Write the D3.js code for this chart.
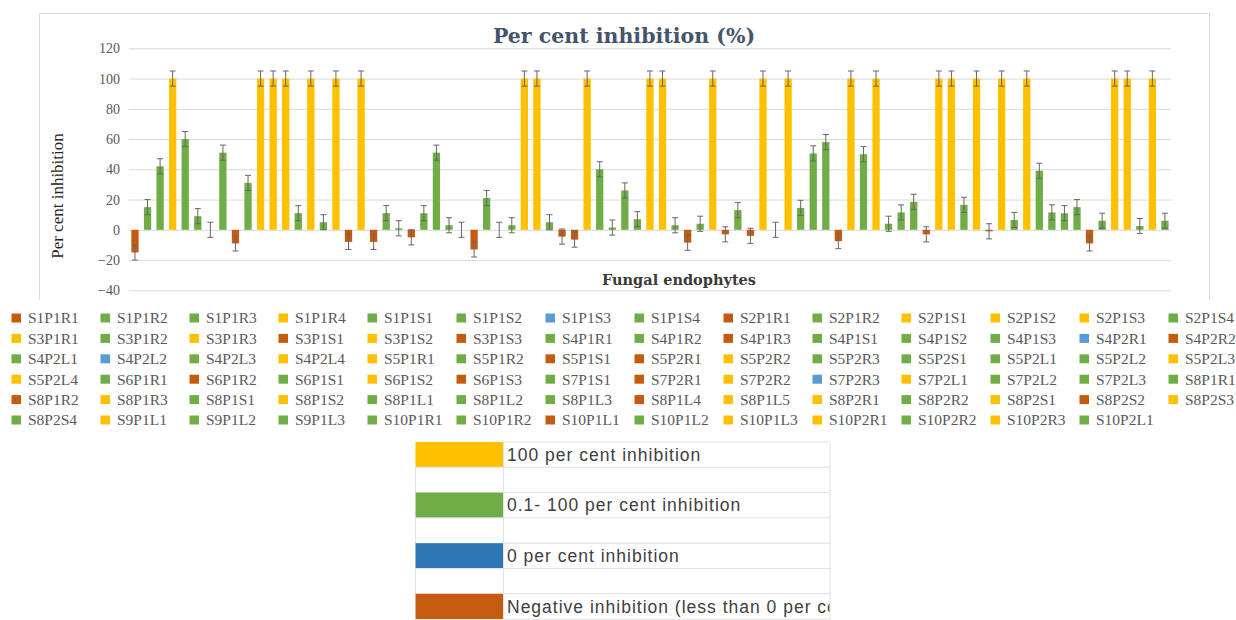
<!DOCTYPE html>
<html><head><meta charset="utf-8">
<script src="https://cdn.jsdelivr.net/npm/d3@7"></script>
<style>body{margin:0;background:#fff;} svg{display:block;}</style>
</head><body><svg id="c" width="1236" height="620"></svg>
<script>
const categories = ["S1P1R1","S1P1R2","S1P1R3","S1P1R4","S1P1S1","S1P1S2","S1P1S3","S1P1S4","S2P1R1","S2P1R2","S2P1S1","S2P1S2","S2P1S3","S2P1S4",
"S3P1R1","S3P1R2","S3P1R3","S3P1S1","S3P1S2","S3P1S3","S4P1R1","S4P1R2","S4P1R3","S4P1S1","S4P1S2","S4P1S3","S4P2R1","S4P2R2",
"S4P2L1","S4P2L2","S4P2L3","S4P2L4","S5P1R1","S5P1R2","S5P1S1","S5P2R1","S5P2R2","S5P2R3","S5P2S1","S5P2L1","S5P2L2","S5P2L3",
"S5P2L4","S6P1R1","S6P1R2","S6P1S1","S6P1S2","S6P1S3","S7P1S1","S7P2R1","S7P2R2","S7P2R3","S7P2L1","S7P2L2","S7P2L3","S8P1R1",
"S8P1R2","S8P1R3","S8P1S1","S8P1S2","S8P1L1","S8P1L2","S8P1L3","S8P1L4","S8P1L5","S8P2R1","S8P2R2","S8P2S1","S8P2S2","S8P2S3",
"S8P2S4","S9P1L1","S9P1L2","S9P1L3","S10P1R1","S10P1R2","S10P1L1","S10P1L2","S10P1L3","S10P2R1","S10P2R2","S10P2R3","S10P2L1"];
const values = [-15,15,42,100,60,9,0,51,-9,31,100,100,100,11,
100,5,100,-8,100,-8,11,1,-5,11,51,3,0,-13,
21,0,3,100,100,5,-4.5,-6.5,100,40,1.5,26,7,100,
100,3,-8.5,4,100,-3,13,-4,100,0,100,14.5,50.5,58,
-7.5,100,50,100,4,11.5,18.5,-3,100,100,16.5,100,-1,100,
6.5,100,39,11.5,11,15,-9,6,100,100,2.5,100,6];
const errorValue = 5;
const yTicks = [-40,-20,0,20,40,60,80,100,120];
const keyLabels = ["100 per cent inhibition","0.1- 100 per cent inhibition","0 per cent inhibition","Negative inhibition (less than 0 per ce"];
const keyColors = ["#FFC000","#70AD47","#2E75B6","#C55A11"];
const titleText = "Per cent inhibition (%)";
const xTitle = "Fungal endophytes";
const yTitle = "Per cent inhibition";

const SERIF = "'Liberation Serif', 'Times New Roman', serif";
const colorOf = v => v >= 100 ? "#FFC000" : v > 0 ? "#70AD47" : v === 0 ? "#5B9BD5" : "#C55A11";

const svg = d3.select("#c");
svg.append("rect").attr("width",1236).attr("height",620).attr("fill","#fff");

// chart frame (3 sides)
svg.append("path").attr("d","M39.5,300 V13.5 H1209.5 V300").attr("fill","none").attr("stroke","#d9d9d9");

const x = d3.scaleBand().domain(categories).range([128.7, 1171.2]).padding(0);
const y = d3.scaleLinear().domain([-40,120]).range([290.3, 48.3]);
const barW = x.bandwidth()*0.58;

// gridlines
svg.append("g").attr("transform","translate(128.7,0)")
  .call(d3.axisLeft(y).tickValues(yTicks).tickSize(-(1171.2-128.7)).tickFormat(""))
  .call(g => g.select(".domain").remove())
  .call(g => g.selectAll("line").attr("stroke","#d9d9d9"));
// tick labels
svg.append("g").attr("transform","translate(128.7,0)")
  .call(d3.axisLeft(y).tickValues(yTicks).tickSize(0).tickPadding(8.7))
  .attr("font-family", SERIF).attr("font-size", 14)
  .call(g => g.select(".domain").remove())
  .call(g => g.selectAll("text").style("font-family", SERIF).attr("font-size",14).attr("fill","#595959"));

// bars
svg.append("g").selectAll("rect").data(categories).join("rect")
  .attr("x", (c) => x(c) + (x.bandwidth()-barW)/2)
  .attr("y", (c,i) => y(Math.max(0, values[i])))
  .attr("width", barW)
  .attr("height", (c,i) => Math.abs(y(values[i]) - y(0)))
  .attr("fill", (c,i) => colorOf(values[i]));

// error bars
const eg = svg.append("g").attr("stroke","#666").attr("stroke-width",1);
categories.forEach((c,i) => {
  const cx = x(c) + x.bandwidth()/2;
  const y1 = y(values[i]-errorValue), y2 = y(values[i]+errorValue);
  eg.append("line").attr("x1",cx).attr("x2",cx).attr("y1",y1).attr("y2",y2);
  eg.append("line").attr("x1",cx-3).attr("x2",cx+3).attr("y1",y1).attr("y2",y1);
  eg.append("line").attr("x1",cx-3).attr("x2",cx+3).attr("y1",y2).attr("y2",y2);
});

// titles
svg.append("text").attr("x",624).attr("y",43).attr("text-anchor","middle")
  .attr("font-family","DejaVu Serif").attr("font-weight","bold").attr("font-size",20.5)
  .attr("fill","#44546A").text(titleText);
svg.append("text").attr("x",679).attr("y",285).attr("text-anchor","middle")
  .attr("font-family","DejaVu Serif").attr("font-weight","bold").attr("font-size",14.5)
  .attr("fill","#3a3a3a").text(xTitle);
svg.append("text").attr("transform","translate(63,196) rotate(-90)").attr("text-anchor","middle")
  .style("font-family", SERIF).attr("font-size",17)
  .attr("fill","#262626").text(yTitle);

// series legend
const lg = svg.append("g");
categories.forEach((c,i) => {
  const col = i % 14, row = Math.floor(i/14);
  const lx = 11.5 + 89*col, ly = 318 + 20.4*row;
  lg.append("rect").attr("x",lx).attr("y",ly-4.5).attr("width",9.5).attr("height",9).attr("fill",colorOf(values[i]));
  lg.append("text").attr("x",lx+16.5).attr("y",ly).attr("dy","0.35em")
    .style("font-family", SERIF).attr("font-size",15.5).attr("fill","#595959").text(c);
});

// colour key table
svg.append("defs").append("clipPath").attr("id","keyclip")
  .append("rect").attr("x",503).attr("y",430).attr("width",326.5).attr("height",190);
const kg = svg.append("g");
const rowH = 25.3, ty0 = 442;
for (let r = 0; r < 7; r++) {
  const ry = ty0 + r*rowH;
  const k = r/2;
  const isKey = r % 2 === 0;
  kg.append("rect").attr("x",415.5).attr("y",ry).attr("width",88).attr("height",rowH)
    .attr("fill", isKey ? keyColors[k] : "#fff").attr("stroke", isKey ? "none" : "#e3e3e3");
  kg.append("rect").attr("x",503.5).attr("y",ry).attr("width",326.5).attr("height",rowH)
    .attr("fill","#fff").attr("stroke","#e3e3e3");
  if (isKey) {
    kg.append("text").attr("x",507).attr("y",ry+rowH/2).attr("dy","0.35em")
      .attr("clip-path","url(#keyclip)")
      .attr("font-family","Liberation Sans").attr("font-size",17.5).attr("letter-spacing",1.0)
      .attr("fill","#404040").text(keyLabels[k]);
  }
}
</script></body></html>
